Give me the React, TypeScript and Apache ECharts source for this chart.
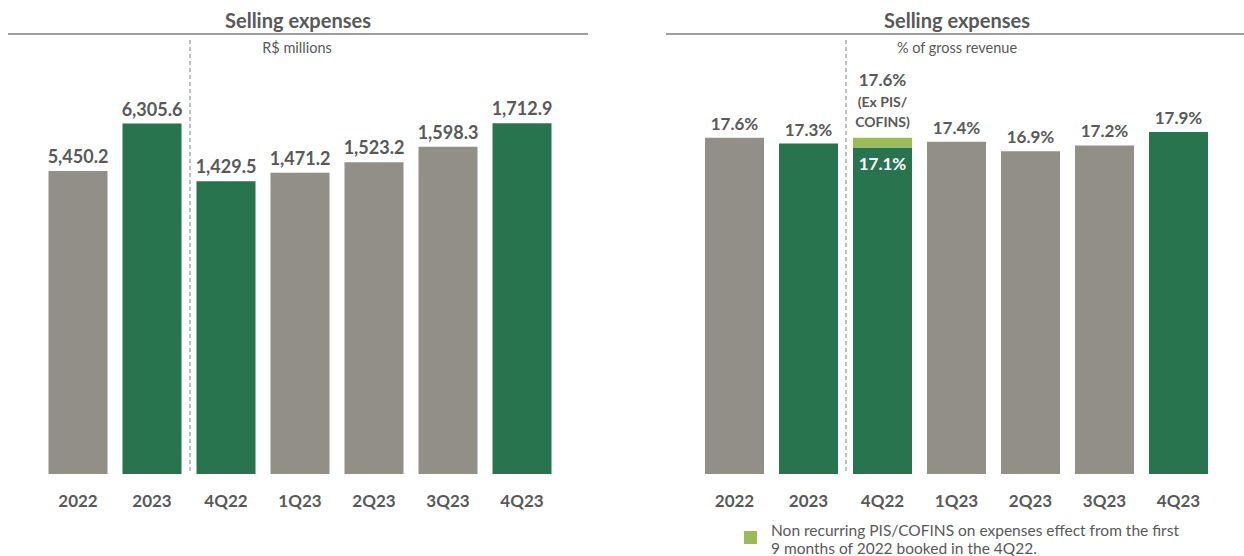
import React, { useEffect, useRef } from "react";
import * as echarts from "echarts";

const categories = ["2022", "2023", "4Q22", "1Q23", "2Q23", "3Q23", "4Q23"];
const annualValues = [5450.2, 6305.6];
const quarterlyValues = [1429.5, 1471.2, 1523.2, 1598.3, 1712.9];
const pctValues = [17.6, 17.3, 17.1, 17.4, 16.9, 17.2, 17.9];
const pctNonRecurring = [null, null, 0.5, null, null, null, null];
const barColorKeys = ["gray", "green", "green", "gray", "gray", "gray", "green"];

const GRAY = "#918F87";
const GREEN = "#28744F";
const LIGHT = "#9BBB59";
const TXT = "#595959";
const FONT = "Lato, 'Open Sans', sans-serif";

const colorOf = (i: number) => (barColorKeys[i] === "green" ? GREEN : GRAY);
const fmtNum = (v: number) =>
  v.toLocaleString("en-US", { minimumFractionDigits: 1, maximumFractionDigits: 1 });
const fmtPct = (v: number) => v.toFixed(1) + "%";

export default function App() {
  const ref = useRef<HTMLDivElement>(null);
  useEffect(() => {
    if (!ref.current) return;
    const chart = echarts.init(ref.current, undefined, { renderer: "svg" });
    const labelBase = {
      show: true,
      position: "top",
      distance: 6,
      color: TXT,
      fontFamily: FONT,
      fontWeight: "bold",
      fontSize: 17,
    };
    const xAxisBase = {
      type: "category",
      data: categories,
      axisLine: { show: false },
      axisTick: { show: false },
      axisLabel: { color: TXT, fontFamily: FONT, fontWeight: "bold", fontSize: 17, margin: 18 },
    };
    const option: any = {
      animation: false,
      textStyle: { fontFamily: FONT },
      grid: [
        { left: 41, top: 85, width: 518, height: 389 },
        { left: 697.5, top: 92, width: 518, height: 382 },
      ],
      xAxis: [
        { ...xAxisBase, gridIndex: 0 },
        { ...xAxisBase, gridIndex: 1 },
      ],
      yAxis: [
        { type: "value", gridIndex: 0, min: 0, max: 7000, show: false, splitLine: { show: false } },
        { type: "value", gridIndex: 0, min: 0, max: 1900, show: false, splitLine: { show: false } },
        { type: "value", gridIndex: 1, min: 0, max: 20, show: false, splitLine: { show: false } },
      ],
      series: [
        {
          type: "bar",
          xAxisIndex: 0,
          yAxisIndex: 0,
          barWidth: 59,
          barGap: "-100%",
          data: categories.map((c, i) =>
            i < annualValues.length ? { value: annualValues[i], itemStyle: { color: colorOf(i) } } : "-"
          ),
          label: { ...labelBase, fontSize: 18, formatter: (p: any) => fmtNum(p.value) },
        },
        {
          type: "bar",
          xAxisIndex: 0,
          yAxisIndex: 1,
          barWidth: 59,
          barGap: "-100%",
          data: categories.map((c, i) =>
            i >= annualValues.length
              ? { value: quarterlyValues[i - annualValues.length], itemStyle: { color: colorOf(i) } }
              : "-"
          ),
          label: { ...labelBase, fontSize: 18, formatter: (p: any) => fmtNum(p.value) },
        },
        {
          type: "bar",
          xAxisIndex: 1,
          yAxisIndex: 2,
          stack: "pct",
          barWidth: 59,
          data: pctValues.map((v, i) =>
            pctNonRecurring[i] != null
              ? {
                  value: v,
                  itemStyle: { color: colorOf(i) },
                  label: { position: "insideTop", color: "#ffffff", distance: 8 },
                }
              : { value: v, itemStyle: { color: colorOf(i) } }
          ),
          label: { ...labelBase, formatter: (p: any) => fmtPct(p.value) },
        },
        {
          type: "bar",
          xAxisIndex: 1,
          yAxisIndex: 2,
          stack: "pct",
          barWidth: 59,
          itemStyle: { color: LIGHT },
          data: pctNonRecurring.map((v) => (v == null ? "-" : v)),
          label: {
            show: true,
            position: "top",
            distance: 6,
            color: TXT,
            fontFamily: FONT,
            fontWeight: "bold",
            align: "center",
            formatter: (p: any) =>
              "{a|" + fmtPct(pctValues[p.dataIndex] + p.value) + "}\n{b|(Ex PIS/}\n{b|COFINS)}",
            rich: {
              a: { fontSize: 17, fontWeight: "bold", color: TXT, fontFamily: FONT, lineHeight: 25, align: "center" },
              b: { fontSize: 14, fontWeight: "bold", color: TXT, fontFamily: FONT, lineHeight: 20, align: "center" },
            },
          },
        },
      ],
      graphic: [
        { type: "line", shape: { x1: 8, y1: 34, x2: 588, y2: 34 }, style: { stroke: "#7F7F7F", lineWidth: 1.5 } },
        { type: "line", shape: { x1: 666, y1: 34, x2: 1244, y2: 34 }, style: { stroke: "#7F7F7F", lineWidth: 1.5 } },
        { type: "line", shape: { x1: 190, y1: 40, x2: 190, y2: 472 }, style: { stroke: "#7F7F7F", lineWidth: 1, lineDash: [4, 3] } },
        { type: "line", shape: { x1: 846, y1: 40, x2: 846, y2: 474 }, style: { stroke: "#7F7F7F", lineWidth: 1, lineDash: [4, 3] } },
        {
          type: "text", x: 298, y: 20,
          style: { text: "Selling expenses", fill: TXT, font: `bold 20px ${FONT}`, textAlign: "center", textVerticalAlign: "middle" },
        },
        {
          type: "text", x: 957, y: 20,
          style: { text: "Selling expenses", fill: TXT, font: `bold 20px ${FONT}`, textAlign: "center", textVerticalAlign: "middle" },
        },
        {
          type: "text", x: 297, y: 47,
          style: { text: "R$ millions", fill: TXT, font: `14.5px ${FONT}`, textAlign: "center", textVerticalAlign: "middle" },
        },
        {
          type: "text", x: 957, y: 47,
          style: { text: "% of gross revenue", fill: TXT, font: `14.5px ${FONT}`, textAlign: "center", textVerticalAlign: "middle" },
        },
        { type: "rect", shape: { x: 744, y: 531, width: 13, height: 13 }, style: { fill: LIGHT } },
        {
          type: "text", x: 771, y: 530,
          style: { text: "Non recurring PIS/COFINS on expenses effect from the first", fill: TXT, font: `15.5px ${FONT}`, textAlign: "left", textVerticalAlign: "middle" },
        },
        {
          type: "text", x: 771, y: 548,
          style: { text: "9 months of 2022 booked in the 4Q22.", fill: TXT, font: `15.5px ${FONT}`, textAlign: "left", textVerticalAlign: "middle" },
        },
      ],
    };
    chart.setOption(option);
    return () => chart.dispose();
  }, []);
  return (
    <div
      ref={ref}
      style={{ position: "absolute", left: 0, top: 0, width: 1244, height: 556, background: "#ffffff" }}
    />
  );
}
